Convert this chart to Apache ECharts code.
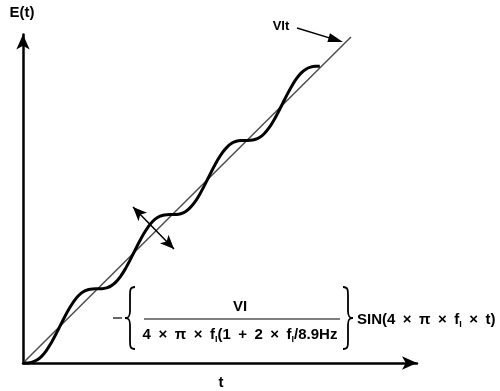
<!DOCTYPE html>
<html>
<head>
<meta charset="utf-8">
<script src="https://cdn.jsdelivr.net/npm/echarts@6/dist/echarts.min.js"></script>
<style>
  html, body { margin: 0; padding: 0; background: #fff; }
  #main { width: 500px; height: 391px; }
</style>
</head>
<body>
<div id="main"></div>
<script>
// time axis, in units of half a ripple period
var waveT = [0, 0.125, 0.25, 0.375, 0.5, 0.625, 0.75, 0.875, 1, 1.125, 1.25, 1.375, 1.5, 1.625, 1.75, 1.875,
  2, 2.125, 2.25, 2.375, 2.5, 2.625, 2.75, 2.875, 3, 3.125, 3.25, 3.375, 3.5, 3.625, 3.75, 3.875,
  4, 4.125, 4.25, 4.375, 4.5, 4.625, 4.75, 4.875, 5, 5.125, 5.25, 5.375, 5.5, 5.625, 5.75, 5.875,
  6, 6.125, 6.25, 6.375, 6.5, 6.625, 6.75, 6.875, 7, 7.125, 7.25, 7.375, 7.5, 7.625, 7.75, 7.875, 8];
// E(t)
var waveE = [0, 0.003, 0.024, 0.079, 0.18, 0.329, 0.524, 0.753, 1, 1.248, 1.476, 1.671, 1.82, 1.921, 1.976, 1.998,
  2, 2.003, 2.024, 2.079, 2.18, 2.329, 2.524, 2.753, 3, 3.248, 3.476, 3.671, 3.82, 3.921, 3.976, 3.998,
  4, 4.003, 4.024, 4.079, 4.18, 4.329, 4.524, 4.753, 5, 5.248, 5.476, 5.671, 5.82, 5.921, 5.976, 5.998,
  6, 6.003, 6.024, 6.079, 6.18, 6.329, 6.524, 6.753, 7, 7.248, 7.476, 7.671, 7.82, 7.921, 7.976, 7.998, 8];
// the VIt ramp
var rampT = [0, 8.84];
var rampE = [0, 8.79];

var FONT = "'Liberation Sans', Arial, sans-serif";
var SP = "\u2002"; // wider space, the original text is loosely set

function zip(a, b) {
  return a.map(function (v, i) { return [v, b[i]]; });
}

// curly brace made of lines and bezier curves; dir 1 = opens right, -1 = opens left
function brace(tipX, top, dir) {
  var X = function (v) { return tipX + dir * v; };
  var Y = function (v) { return top + v; };
  var st = { stroke: "#000", lineWidth: 1.8, fill: "none" };
  return [
    { type: "bezierCurve", shape: { x1: X(10), y1: Y(0), cpx1: X(5), cpy1: Y(0), cpx2: X(5), cpy2: Y(3), x2: X(5), y2: Y(8) }, style: st },
    { type: "line", shape: { x1: X(5), y1: Y(8), x2: X(5), y2: Y(24) }, style: st },
    { type: "bezierCurve", shape: { x1: X(5), y1: Y(24), cpx1: X(5), cpy1: Y(29), cpx2: X(4), cpy2: Y(31), x2: X(0), y2: Y(31) }, style: st },
    { type: "bezierCurve", shape: { x1: X(0), y1: Y(31), cpx1: X(4), cpy1: Y(31), cpx2: X(5), cpy2: Y(33), x2: X(5), y2: Y(38) }, style: st },
    { type: "line", shape: { x1: X(5), y1: Y(38), x2: X(5), y2: Y(54) }, style: st },
    { type: "bezierCurve", shape: { x1: X(5), y1: Y(54), cpx1: X(5), cpy1: Y(59), cpx2: X(5), cpy2: Y(62), x2: X(10), y2: Y(62) }, style: st }
  ];
}

var myChart = echarts.init(document.getElementById("main"));

var axisCommon = {
  type: "value",
  min: 0,
  axisLine: {
    show: true,
    symbol: ["none", "arrow"],
    symbolSize: [10, 15],
    lineStyle: { color: "#000", width: 2.5 }
  },
  axisTick: { show: false },
  axisLabel: { show: false },
  splitLine: { show: false }
};

var richStyles = {
  a: { fill: "#000", fontFamily: FONT, fontWeight: "bold", fontSize: 15, lineHeight: 18, verticalAlign: "middle" },
  s: { fill: "#000", fontFamily: FONT, fontWeight: "bold", fontSize: 9, lineHeight: 12, verticalAlign: "bottom" }
};

var option = {
  animation: false,
  backgroundColor: "#fff",
  grid: { left: 23, right: 83, top: 34.5, bottom: 28 },
  xAxis: Object.assign({}, axisCommon, { max: 10.62 }),
  yAxis: Object.assign({}, axisCommon, { max: 8.855 }),
  series: [
    {
      name: "VIt",
      type: "line",
      data: zip(rampT, rampE),
      symbol: "none",
      clip: false,
      lineStyle: { color: "#4d4d4d", width: 1.5 }
    },
    {
      name: "E(t)",
      type: "line",
      data: zip(waveT, waveE),
      symbol: "none",
      smooth: 0.3,
      clip: false,
      lineStyle: { color: "#000", width: 3 },
      markLine: {
        silent: true,
        symbol: ["arrow", "arrow"],
        symbolSize: [9, 14],
        label: { show: false },
        lineStyle: { color: "#000", width: 1.5, type: "solid" },
        data: [
          [{ coord: [2.965, 4.205] }, { coord: [4.07, 3.073] }]
        ]
      }
    }
  ],
  graphic: [
    {
      type: "text", x: 22, y: 13,
      style: { text: "E(t)", fill: "#000", font: "bold 15px " + FONT, align: "center", verticalAlign: "middle" }
    },
    {
      type: "text", x: 221, y: 383,
      style: { text: "t", fill: "#000", font: "bold 15px " + FONT, align: "center", verticalAlign: "middle" }
    },
    {
      type: "text", x: 281, y: 26,
      style: { text: "VIt", fill: "#000", font: "bold 13px " + FONT, align: "center", verticalAlign: "middle" }
    },
    // pointer from the VIt label to the ramp
    {
      type: "line",
      shape: { x1: 297, y1: 28, x2: 331, y2: 38.4 },
      style: { stroke: "#000", lineWidth: 1.5 }
    },
    {
      type: "polygon",
      shape: { points: [[343, 42], [330, 33.3], [327.4, 41.9]] },
      style: { fill: "#000" }
    },
    // formula
    {
      type: "line",
      shape: { x1: 113, y1: 318, x2: 122, y2: 318 },
      style: { stroke: "#000", lineWidth: 1.2 }
    },
    {
      type: "text", x: 240, y: 307,
      style: { text: "VI", fill: "#000", font: "bold 15px " + FONT, align: "center", verticalAlign: "middle" }
    },
    {
      type: "line",
      shape: { x1: 144, y1: 319, x2: 340, y2: 319 },
      style: { stroke: "#000", lineWidth: 1.2 }
    },
    {
      type: "text", x: 240, y: 335,
      style: {
        text: "{a|4" + SP + "×" + SP + "π" + SP + "×" + SP + "f}{s|I}{a|(1" + SP + "+" + SP + "2" + SP + "×" + SP + "f}{s|I}{a|/8.9Hz}",
        align: "center", verticalAlign: "middle",
        rich: richStyles
      }
    },
    {
      type: "text", x: 357, y: 320,
      style: {
        text: "{a|SIN(4" + SP + "×" + SP + "π" + SP + "×" + SP + "f}{s|I}{a|" + SP + "×" + SP + "t)}",
        align: "left", verticalAlign: "middle",
        rich: richStyles
      }
    }
  ].concat(brace(125, 287, 1), brace(353, 287, -1))
};

myChart.setOption(option);
</script>
</body>
</html>
